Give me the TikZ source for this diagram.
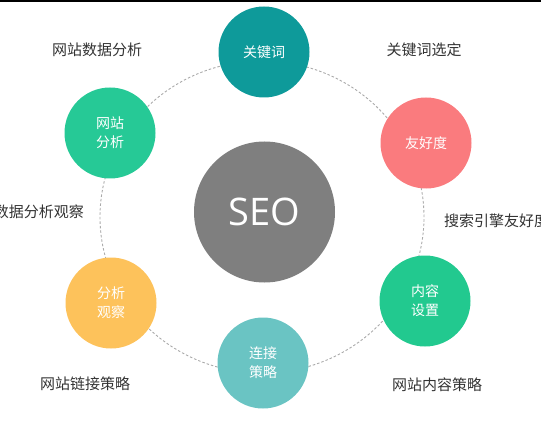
\documentclass[tikz,border=0pt]{standalone}
\usepackage{fontspec}
\newfontfamily\cjk{Noto Sans CJK SC}
\newfontfamily\seofont{Open Sans}
\definecolor{cKey}{HTML}{0E9A9A}
\definecolor{cFriend}{HTML}{FA7B7E}
\definecolor{cContent}{HTML}{22C98F}
\definecolor{cLink}{HTML}{6AC4C3}
\definecolor{cAnalyse}{HTML}{FDC25B}
\definecolor{cSite}{HTML}{26C996}
\definecolor{cSEO}{HTML}{7F7F7F}
\definecolor{cRing}{HTML}{AAAAAA}
\definecolor{cLabel}{HTML}{333333}
\begin{document}
\begin{tikzpicture}[x=1pt,y=-1pt,
  bubble/.style={circle,minimum size=91pt,inner sep=0pt,align=center,text=white,
    font=\cjk\fontsize{14}{19}\selectfont},
  outlabel/.style={text=cLabel,inner sep=0pt,font=\cjk\fontsize{15}{18}\selectfont},
  ring/.style={draw=cRing,line width=0.9pt,dash pattern=on 2.5pt off 2pt}]
\useasboundingbox (0,0) rectangle (541,441);
\fill[black] (0,0) rectangle (541,2.5);
\draw[ring] (262,217) ellipse [x radius=162pt, y radius=156pt];
\node[circle,minimum size=141pt,inner sep=0pt,fill=cSEO,text=white,font=\seofont\fontsize{38}{40}\selectfont] (seo) at (264.5,212) {SEO};
\node[bubble,fill=cKey] (key) at (264,52) {关键词};
\node[bubble,fill=cFriend] (friend) at (426,143) {友好度};
\node[bubble,fill=cContent] (content) at (425,301) {内容\\设置};
\node[bubble,fill=cLink] (link) at (263,363) {连接\\策略};
\node[bubble,fill=cAnalyse] (analyse) at (111,303) {分析\\观察};
\node[bubble,fill=cSite] (site) at (110,133) {网站\\分析};
\node[outlabel] (l1) at (97,50) {网站数据分析};
\node[outlabel] (l2) at (424,50) {关键词选定};
\node[outlabel,anchor=east] (l3) at (84,212) {数据分析观察};
\node[outlabel,anchor=west] (l4) at (444,221) {搜索引擎友好度};
\node[outlabel] (l5) at (85,384) {网站链接策略};
\node[outlabel] (l6) at (437,385) {网站内容策略};
\end{tikzpicture}
\end{document}
